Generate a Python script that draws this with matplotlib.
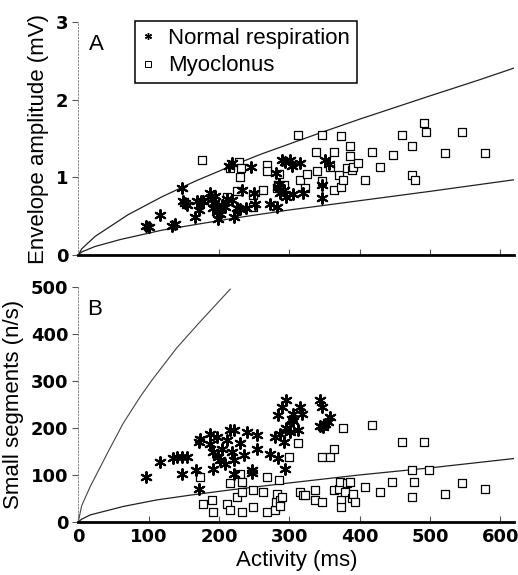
import matplotlib
matplotlib.use("Agg")
import matplotlib.pyplot as plt
from matplotlib.lines import Line2D

plt.rcParams["font.family"] = ["Liberation Sans", "DejaVu Sans"]

# Panel A - envelope amplitude (mV) vs activity (ms)
a_star_x = [97, 100, 116, 134, 137, 147, 149, 152, 155, 166, 169, 172, 174, 177,
            188, 190, 191, 193, 195, 197, 199, 202, 205, 209, 211, 215, 218, 219,
            222, 226, 230, 233, 239, 246, 250, 252, 272, 281, 282, 284, 286, 287,
            289, 292, 294, 296, 301, 304, 306, 315, 319, 346, 347, 351, 357]
a_star_y = [0.37, 0.36, 0.52, 0.38, 0.40, 0.86, 0.69, 0.67, 0.64, 0.49, 0.69, 0.58,
            0.70, 0.70, 0.80, 0.72, 0.60, 0.67, 0.76, 0.55, 0.47, 0.53, 0.65, 0.62,
            0.72, 1.15, 1.18, 0.71, 0.49, 0.61, 0.59, 0.84, 0.60, 1.13, 0.80, 0.66,
            0.66, 1.06, 0.62, 0.88, 0.92, 0.80, 1.22, 0.84, 1.20, 0.75, 1.23, 1.15,
            0.79, 1.19, 0.80, 0.74, 0.90, 1.23, 1.17]
a_sq_x = [176, 190, 211, 216, 225, 229, 230, 232, 249, 249, 263, 268, 268, 282,
          284, 285, 292, 313, 315, 322, 325, 338, 339, 346, 346, 358, 363, 363,
          370, 374, 374, 377, 382, 386, 386, 389, 391, 398, 408, 417, 429, 448,
          460, 474, 474, 479, 491, 495, 521, 545, 578]
a_sq_y = [1.23, 0.70, 0.75, 1.12, 0.82, 1.20, 1.01, 1.12, 0.77, 0.62, 0.84, 1.16,
          1.08, 0.86, 0.90, 1.05, 0.90, 1.55, 0.97, 0.86, 1.05, 1.33, 1.08, 1.55,
          0.95, 1.14, 1.33, 0.84, 1.03, 1.53, 0.88, 0.97, 1.12, 1.40, 1.27, 1.10,
          1.14, 1.18, 0.97, 1.33, 1.14, 1.29, 1.55, 1.40, 1.03, 0.97, 1.70, 1.59,
          1.31, 1.59, 1.32]
a_upper_x = [0, 5, 24, 71, 119, 166, 213, 260, 300, 346, 400, 500, 568, 620]
a_upper_y = [0, 0.08, 0.24, 0.52, 0.75, 0.95, 1.13, 1.30, 1.43, 1.58, 1.75, 2.05, 2.25, 2.41]
a_lower_x = [0, 5, 24, 60, 119, 218, 300, 400, 500, 620]
a_lower_y = [0, 0.04, 0.11, 0.20, 0.32, 0.47, 0.58, 0.70, 0.82, 0.97]

# Panel B - small segments (n/s) vs activity (ms)
b_star_x = [97, 116, 135, 140, 147, 154, 148, 168, 172, 171, 173, 188, 188, 192,
            192, 197, 199, 202, 205, 209, 211, 216, 221, 218, 221, 221, 230, 235,
            240, 247, 247, 254, 254, 273, 280, 284, 284, 287, 289, 292, 294, 296,
            296, 301, 304, 306, 306, 313, 315, 318, 344, 346, 344, 348, 351, 355, 358]
b_star_y = [96, 128, 135, 138, 138, 138, 101, 110, 71, 170, 177, 165, 188, 113,
            149, 180, 138, 131, 156, 124, 174, 195, 195, 149, 131, 103, 167, 142,
            191, 105, 110, 184, 156, 145, 181, 227, 135, 188, 245, 170, 113, 259,
            199, 191, 220, 215, 230, 195, 245, 230, 259, 245, 205, 202, 208, 213, 223]
b_sq_x = [173, 178, 190, 192, 211, 216, 216, 225, 230, 233, 233, 233, 249, 249,
          263, 268, 268, 280, 281, 282, 286, 287, 287, 289, 299, 313, 315, 320,
          322, 337, 337, 346, 346, 358, 363, 363, 370, 372, 374, 374, 377, 379,
          382, 386, 389, 391, 393, 408, 418, 429, 446, 460, 474, 474, 477, 491,
          498, 521, 545, 578]
b_sq_y = [96, 39, 46, 21, 39, 82, 25, 53, 103, 64, 85, 21, 32, 67,
          64, 96, 21, 25, 43, 60, 89, 46, 35, 53, 138, 167, 64, 57,
          57, 67, 46, 138, 43, 138, 156, 67, 71, 85, 46, 32, 199, 64,
          82, 85, 50, 60, 43, 74, 206, 64, 85, 170, 110, 53, 85, 170,
          110, 60, 82, 71]
b_upper_x = [0, 5, 17, 41, 64, 88, 105, 140, 171, 216]
b_upper_y = [0, 35, 75, 145, 210, 266, 302, 370, 422, 495]
b_lower_x = [0, 5, 17, 64, 112, 159, 215, 300, 400, 500, 620]
b_lower_y = [0, 6, 15, 33, 47, 57, 68, 83, 100, 115, 135]

STAR = (6, 2, 0)
TICK_FONT = {"family": "DejaVu Sans", "weight": "bold", "size": 13}

fig = plt.figure(figsize=(5.18, 5.75), dpi=100)
ax_a = fig.add_axes([0.151, 0.5565, 0.842, 0.405])
ax_b = fig.add_axes([0.151, 0.0922, 0.842, 0.409])


def style_axes(ax):
    for side in ["top", "right"]:
        ax.spines[side].set_visible(False)
    ax.spines["left"].set_linewidth(0.6)
    ax.spines["left"].set_color("#777777")
    ax.spines["left"].set_linestyle((0, (2, 2)))
    ax.spines["bottom"].set_linewidth(2)
    ax.tick_params(axis="y", direction="out", length=4, width=0.8, color="#555555", pad=3)
    ax.tick_params(axis="x", direction="in", length=4, width=0.8, color="#555555", pad=4)
    for lab in ax.get_xticklabels() + ax.get_yticklabels():
        lab.set_fontproperties(TICK_FONT)
    ax.set_xlim(0, 620)


def draw_points(ax, sx, sy, qx, qy):
    ax.scatter(qx, qy, marker="s", s=34, facecolors="white", edgecolors="black",
               linewidths=0.9, zorder=3)
    ax.scatter(sx, sy, marker=STAR, s=60, color="black", linewidths=1.5, zorder=4)


# Panel A
ax_a.plot(a_upper_x, a_upper_y, color="#222222", linewidth=0.9)
ax_a.plot(a_lower_x, a_lower_y, color="#222222", linewidth=0.9)
draw_points(ax_a, a_star_x, a_star_y, a_sq_x, a_sq_y)
ax_a.set_ylim(0, 3)
ax_a.set_yticks([0, 1, 2, 3])
ax_a.set_xticks([200, 300, 400, 500, 600])
ax_a.set_xticklabels([])
style_axes(ax_a)
ax_a.set_ylabel("Envelope amplitude (mV)", fontsize=16, labelpad=5)
ax_a.text(0.025, 0.95, "A", transform=ax_a.transAxes, fontsize=16, va="top")

handles = [
    Line2D([], [], linestyle="none", marker=STAR, markersize=5, color="black",
           markeredgewidth=1.0),
    Line2D([], [], linestyle="none", marker="s", markersize=4, markerfacecolor="white",
           markeredgecolor="black", markeredgewidth=0.7),
]
leg = ax_a.legend(handles, ["Normal respiration", "Myoclonus"], loc="upper left",
                  bbox_to_anchor=(0.13, 1.005), fontsize=16, frameon=True, fancybox=False,
                  edgecolor="black", framealpha=1, handlelength=0.6, handletextpad=0.6,
                  borderpad=0.3, labelspacing=0.3, borderaxespad=0)
leg.get_frame().set_linewidth(1.1)

# Panel B
ax_b.plot(b_upper_x, b_upper_y, color="#444444", linewidth=0.8)
ax_b.plot(b_lower_x, b_lower_y, color="#222222", linewidth=0.9)
draw_points(ax_b, b_star_x, b_star_y, b_sq_x, b_sq_y)
ax_b.set_ylim(0, 500)
ax_b.set_yticks([0, 100, 200, 300, 400, 500])
ax_b.set_xticks([0, 100, 200, 300, 400, 500, 600])
style_axes(ax_b)
ax_b.set_ylabel("Small segments (n/s)", fontsize=16, labelpad=5)
ax_b.set_xlabel("Activity (ms)", fontsize=16, labelpad=3)
ax_b.text(0.02, 0.95, "B", transform=ax_b.transAxes, fontsize=16, va="top")

fig.savefig("out.png", dpi=100)
